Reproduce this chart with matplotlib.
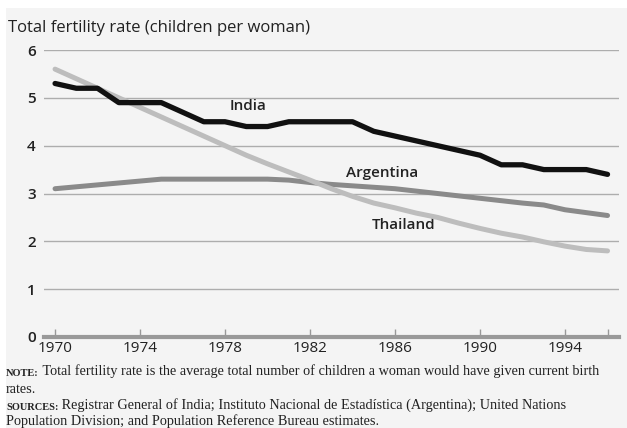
import matplotlib
matplotlib.use("Agg")
import matplotlib.pyplot as plt
from matplotlib.patches import Rectangle

# Datos (1970-1996)
anios = list(range(1970, 1997))
india = [5.3, 5.2, 5.2, 4.9, 4.9, 4.9, 4.7, 4.5, 4.5, 4.4, 4.4, 4.5, 4.5, 4.5,
         4.5, 4.3, 4.2, 4.1, 4.0, 3.9, 3.8, 3.6, 3.6, 3.5, 3.5, 3.5, 3.4]
argentina = [3.1, 3.14, 3.18, 3.22, 3.26, 3.3, 3.3, 3.3, 3.3, 3.3, 3.3, 3.28, 3.23,
             3.19, 3.16, 3.13, 3.1, 3.05, 3.0, 2.95, 2.9, 2.85, 2.8, 2.76, 2.66, 2.6, 2.54]
tailandia = [5.6, 5.4, 5.2, 5.0, 4.8, 4.6, 4.4, 4.2, 4.0, 3.8, 3.62, 3.45, 3.28,
             3.1, 2.94, 2.8, 2.7, 2.59, 2.5, 2.38, 2.27, 2.17, 2.09, 1.99, 1.9, 1.83, 1.8]

ticks_x = [1970, 1974, 1978, 1982, 1986, 1990, 1994, 1996]
etiquetas_x = ['1970', '1974', '1978', '1982', '1986', '1990', '1994', '']
ticks_y = [0, 1, 2, 3, 4, 5, 6]

fondo = '#f4f4f4'
texto = '#222222'
fig = plt.figure(figsize=(6.27, 4.28), dpi=100, facecolor='white')
fig.patches.append(Rectangle((6 / 627, 0), 1, 1 - 8 / 428, transform=fig.transFigure,
                             facecolor=fondo, edgecolor='none', zorder=-10))

ax = fig.add_axes([44 / 627, (428 - 337) / 428, (619 - 44) / 627, 287 / 428])
ax.patch.set_alpha(0)

ax.set_xlim(1969.48, 1996.54)
ax.set_ylim(0, 6)

# líneas de cuadrícula
for v in ticks_y[1:]:
    ax.axhline(v, color='#adadad', lw=1.0, zorder=1)
ax.axhline(0, color='#999999', lw=3.0, zorder=2, clip_on=False)

ax.plot(anios, argentina, color='#8a8a8a', lw=3.6, solid_capstyle='round',
        solid_joinstyle='round', zorder=3, clip_on=False)
ax.plot(anios, tailandia, color='#bdbdbd', lw=3.6, solid_capstyle='round',
        solid_joinstyle='round', zorder=4, clip_on=False)
ax.plot(anios, india, color='#111111', lw=3.8, solid_capstyle='round',
        solid_joinstyle='round', zorder=5, clip_on=False)

for s in ax.spines.values():
    s.set_visible(False)

ax.set_xticks(ticks_x)
ax.set_xticklabels(etiquetas_x, fontsize=11, fontfamily='Open Sans', color=texto)
ax.tick_params(axis='x', direction='in', length=6, width=1, color='#999999', pad=3)
ax.set_yticks(ticks_y)
ax.set_yticklabels([str(v) for v in ticks_y], fontsize=11, fontfamily='Open Sans',
                   fontweight='semibold', color=texto)
ax.tick_params(axis='y', length=0, pad=6)

# etiquetas de series
estilo = dict(fontsize=11, fontfamily='Open Sans', fontweight='semibold', color=texto)
ax.text(1978.2, 4.75, 'India', **estilo)
ax.text(1983.7, 3.35, 'Argentina', **estilo)
ax.text(1984.9, 2.25, 'Thailand', **estilo)

fig.text(8 / 627, 1 - 28 / 428, 'Total fertility rate (children per woman)', fontsize=12,
         fontfamily='Open Sans', color=texto, va='center')

# notas al pie
serif = 'Liberation Serif'
cuerpo = 10.3
t1 = fig.text(6 / 627, 1 - 376 / 428, 'NOTE:', fontsize=7.5, fontweight='bold',
              fontfamily=serif, color=texto, va='baseline')
ax.annotate(' Total fertility rate is the average total number of children a woman '
            'would have given current birth', xy=(1, 0), xycoords=t1, fontsize=cuerpo,
            fontfamily=serif, color=texto, annotation_clip=False, va='bottom')
fig.text(6 / 627, 1 - 393 / 428, 'rates.', fontsize=cuerpo, fontfamily=serif,
         color=texto, va='baseline')
t2 = fig.text(6 / 627, 1 - 410 / 428, 'SOURCES:', fontsize=7.5, fontweight='bold',
              fontfamily=serif, color=texto, va='baseline')
ax.annotate(' Registrar General of India; Instituto Nacional de Estadística (Argentina); '
            'United Nations', xy=(1, 0), xycoords=t2, fontsize=cuerpo,
            fontfamily=serif, color=texto, annotation_clip=False, va='bottom')
fig.text(6 / 627, 1 - 425 / 428, 'Population Division; and Population Reference Bureau estimates.',
         fontsize=cuerpo, fontfamily=serif, color=texto, va='baseline')

fig.savefig('out.png', dpi=100, facecolor=fig.get_facecolor())
